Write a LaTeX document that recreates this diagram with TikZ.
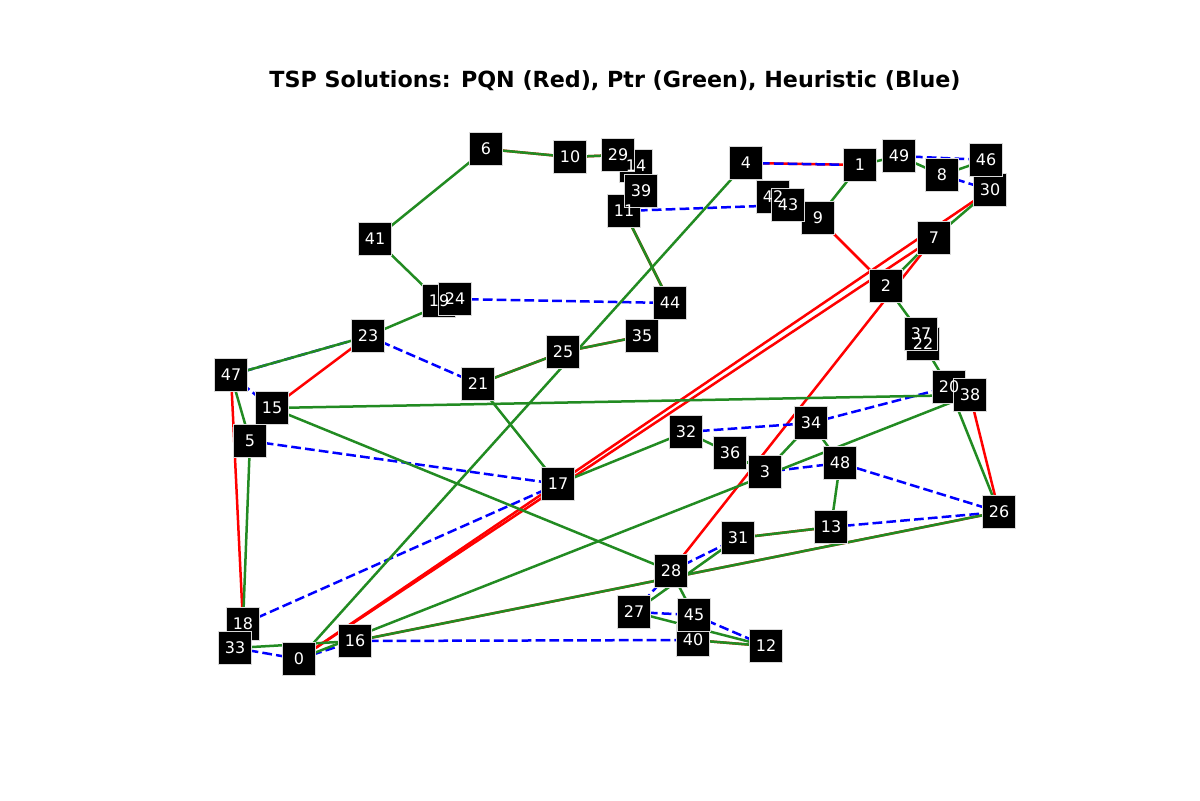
\documentclass[tikz,border=0pt]{standalone}
\usepackage{fontspec}
\setmainfont{DejaVu Sans}
\pgfdeclarelayer{edges}
\pgfsetlayers{edges,main}
\begin{document}
\begin{tikzpicture}[x=0.72pt,y=-0.72pt,
  box/.style={fill=black,draw=gray!30,line width=0.3pt,minimum size=23.5pt,inner sep=0pt},
  lbl/.style={text=white,inner sep=0pt,font=\fontsize{11.5}{13}\selectfont},
  rededge/.style={draw=red,line width=1.8pt},
  blueedge/.style={draw=blue,line width=1.8pt,dash pattern=on 7pt off 3pt},
  greenedge/.style={draw={rgb,255:red,34;green,139;blue,34},line width=1.8pt},
  titlestyle/.style={font=\bfseries\fontsize{16}{19}\selectfont}]
\useasboundingbox (0,0) rectangle (1200,800);
\node[titlestyle] (title) at (615,81) {TSP Solutions: PQN (Red), Ptr (Green), Heuristic (Blue)};
\foreach \i/\x/\y in {
 0/299/659, 1/860/165, 2/886/286, 3/765/472, 4/746/163, 5/250/441, 6/486/149,
 7/934/238, 8/942/175, 9/818/218, 10/570/157, 11/624/211, 12/766/646, 13/831/527,
 14/636/166, 15/272/408, 16/355/641, 17/558/484, 18/243/624, 19/439/301, 20/949/387,
 21/478/384, 22/923/344, 23/368/336, 24/455/299, 25/563/352, 26/999/512, 27/634/612,
 28/671/571, 29/618/155, 30/990/190, 31/738/538, 32/686/432, 33/235/648, 34/811/423,
 35/642/336, 36/730/453, 37/921/334, 38/970/395, 39/641/191, 40/693/640, 41/375/239,
 42/773/197, 43/788/205, 44/670/303, 45/694/615, 46/986/160, 47/231/375, 48/840/463,
 49/899/156}
  \node[box] (n\i) at (\x,\y) {};
\foreach \i in {0,...,49}
  \node[lbl] (t\i) at (n\i) {\i};
\begin{pgfonlayer}{edges}
% PQN (red)
\foreach \a/\b in {47/18, 23/15, 4/1, 9/2, 28/7, 30/0, 7/0, 38/26,
  6/10, 10/29, 21/25, 25/35, 16/26, 13/31, 40/12, 11/44}
  \draw[rededge] (n\a.center) -- (n\b.center);
% Heuristic (blue)
\foreach \a/\b in {4/1, 49/46, 8/30, 11/43, 24/44, 23/21, 47/15, 15/5, 5/17, 17/18,
  33/0, 0/16, 16/40, 45/12, 27/45, 27/28, 28/31, 13/26, 26/48, 48/3, 32/34, 34/20, 47/23}
  \draw[blueedge] (n\a.center) -- (n\b.center);
% Ptr (green)
\foreach \a/\b in {6/41, 41/19, 19/24, 24/23, 23/47, 47/5, 5/18, 18/33, 33/16, 16/26,
  26/20, 20/22, 22/37, 37/2, 2/7, 7/30, 30/46, 46/8, 8/49, 49/1, 1/9, 9/43, 43/42,
  42/4, 4/0, 0/38, 38/15, 15/28, 28/45, 45/40, 40/12, 12/27, 27/31, 31/13, 13/48,
  48/34, 34/3, 3/36, 36/32, 32/17, 17/21, 21/25, 25/35, 35/44, 44/11, 11/39, 39/14,
  14/29, 29/10, 10/6}
  \draw[greenedge] (n\a.center) -- (n\b.center);
\end{pgfonlayer}
\end{tikzpicture}
\end{document}
